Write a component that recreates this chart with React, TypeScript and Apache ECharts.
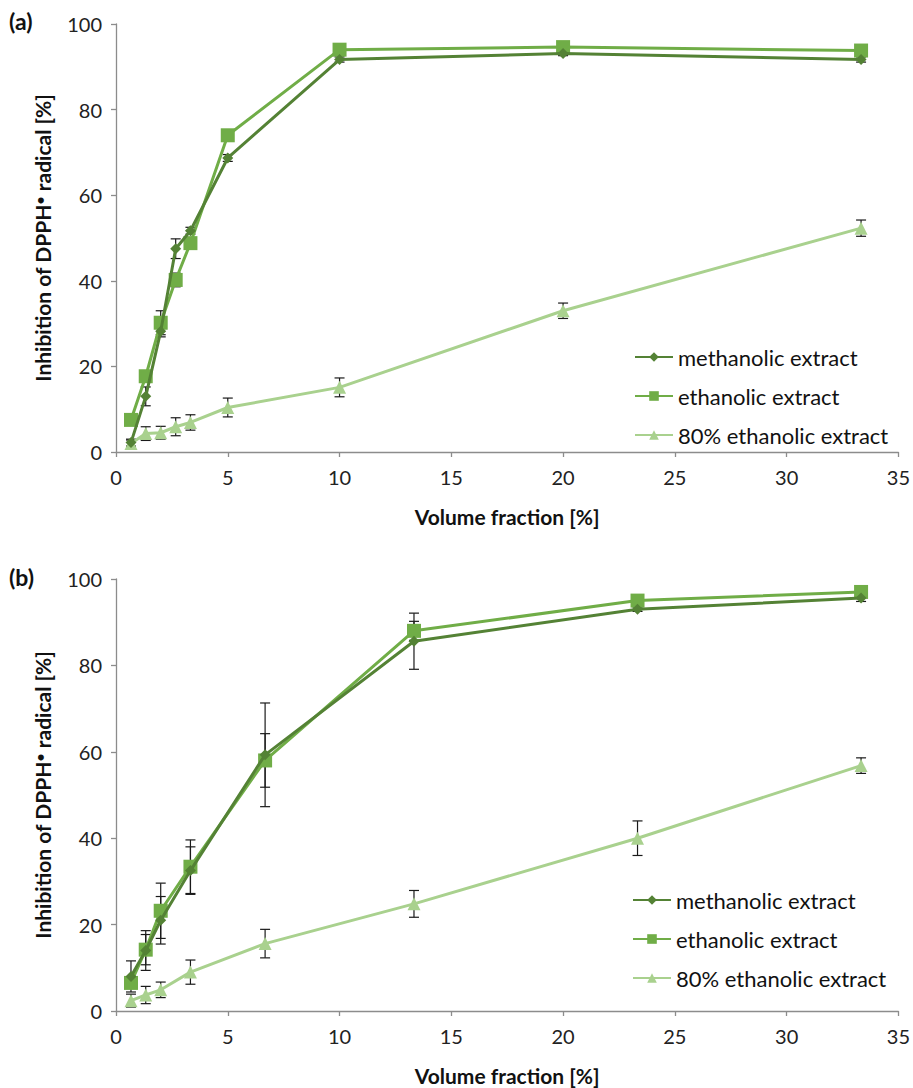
import React, { useEffect, useRef } from "react";
import * as echarts from "echarts";

// ---- Panel (a) ----
const xA = [0.67, 1.33, 2, 2.67, 3.33, 5, 10, 20, 33.33];
const methA = [2.2, 13, 28.2, 47.5, 51.7, 68.7, 91.7, 93.1, 91.7];
const methASd = [0.8, 2.2, 1.3, 2.3, 0.8, 0.8, 0.6, 0.5, 0.6];
const ethA = [7.5, 17.7, 30.2, 40.2, 48.8, 74, 94, 94.6, 93.8];
const ethASd = [0.6, 1, 2.8, 1.6, 1, 1.3, 0.5, 0.5, 0.5];
const e80A = [2, 4.3, 4.5, 5.9, 6.9, 10.4, 15.1, 33, 52.3];
const e80ASd = [0.8, 1.6, 1.5, 2.1, 1.8, 2.2, 2.2, 1.8, 1.9];

// ---- Panel (b) ----
const xB = [0.67, 1.33, 2, 3.33, 6.67, 13.33, 23.33, 33.33];
const methB = [8, 14, 21, 32.5, 59.3, 85.6, 93, 95.6];
const methBSd = [3.6, 4.6, 5.5, 5.5, 12, 6.5, 0.5, 0.8];
const ethB = [6.5, 14.2, 23.2, 33.4, 58, 88, 95, 97];
const ethBSd = [1.2, 3.5, 6.4, 6.2, 6.2, 2.2, 0.4, 0.5];
const e80B = [2.4, 3.7, 4.9, 9, 15.6, 24.8, 40, 56.8];
const e80BSd = [1.5, 2, 1.8, 2.8, 3.3, 3.1, 4, 1.8];

const seriesNames = ["methanolic extract", "ethanolic extract", "80% ethanolic extract"];
const xTitle = "Volume fraction [%]";
const yTitle = "Inhibition of DPPH{b|\u2022} radical [%]";
const panelLabels = ["(a)", "(b)"];

const colors = ["#548235", "#70AD47", "#A9D18E"];
const symbols = ["diamond", "rect", "triangle"];
const symbolSizes = [11, 14, 13];
const FONT = "Lato, 'Noto Sans', sans-serif";

function pairs(xs: number[], ys: number[]) {
  return xs.map((x, i) => [x, ys[i]]);
}
function errs(xs: number[], ys: number[], sd: number[]) {
  return xs.map((x, i) => [x, ys[i] - sd[i], ys[i] + sd[i]]);
}

const renderErr = (params: any, api: any) => {
  const x = api.value(0);
  const lo = api.coord([x, api.value(1)]);
  const hi = api.coord([x, api.value(2)]);
  const w = 5;
  const st = { stroke: "#1a1a1a", lineWidth: 1.2 };
  return {
    type: "group",
    children: [
      { type: "line", shape: { x1: lo[0], y1: lo[1], x2: hi[0], y2: hi[1] }, style: st },
      { type: "line", shape: { x1: lo[0] - w, y1: lo[1], x2: lo[0] + w, y2: lo[1] }, style: st },
      { type: "line", shape: { x1: hi[0] - w, y1: hi[1], x2: hi[0] + w, y2: hi[1] }, style: st },
    ],
  };
};

export default function App() {
  const ref = useRef<HTMLDivElement>(null);
  useEffect(() => {
    if (!ref.current) return;
    const chart = echarts.init(ref.current, undefined, { renderer: "svg" });

    const axisLine = { lineStyle: { color: "#8c8c8c", width: 1.3 } };
    const axisTick = { show: true, inside: false, length: 5, lineStyle: { color: "#8c8c8c", width: 1.3 } };
    const labelStyle = { color: "#222", fontSize: 20, fontFamily: FONT };
    const nameStyle = {
      color: "#111",
      fontSize: 21,
      fontWeight: "bold" as const,
      fontFamily: FONT,
      rich: { b: { fontSize: 14, fontWeight: "bold", fontFamily: FONT, color: "#111", verticalAlign: "top" } },
    };

    const grids = [
      { left: 116, width: 783, top: 24, height: 428 },
      { left: 116, width: 783, top: 579, height: 432 },
    ];
    const xAxes = [0, 1].map((g) => ({
      type: "value",
      gridIndex: g,
      min: 0,
      max: 35,
      interval: 5,
      axisLine,
      axisTick,
      splitLine: { show: false },
      axisLabel: { ...labelStyle, margin: 15 },
      name: xTitle,
      nameLocation: "middle",
      nameGap: 54,
      nameTextStyle: nameStyle,
    }));
    const yAxes = [0, 1].map((g) => ({
      type: "value",
      gridIndex: g,
      min: 0,
      max: 100,
      interval: 20,
      axisLine: { show: true, ...axisLine },
      axisTick,
      splitLine: { show: false },
      axisLabel: { ...labelStyle, margin: 14 },
      name: yTitle,
      nameLocation: "middle",
      nameGap: 63,
      nameTextStyle: nameStyle,
    }));

    const panels = [
      { xs: xA, ys: [methA, ethA, e80A], sds: [methASd, ethASd, e80ASd] },
      { xs: xB, ys: [methB, ethB, e80B], sds: [methBSd, ethBSd, e80BSd] },
    ];

    const series: any[] = [];
    panels.forEach((p, g) => {
      p.ys.forEach((ys, k) => {
        series.push({
          type: "custom",
          name: seriesNames[k] + " err",
          xAxisIndex: g,
          yAxisIndex: g,
          renderItem: renderErr,
          encode: { x: 0, y: [1, 2] },
          data: errs(p.xs, ys, p.sds[k]),
          z: 1,
          silent: true,
        });
      });
      p.ys.forEach((ys, k) => {
        series.push({
          type: "line",
          name: seriesNames[k],
          xAxisIndex: g,
          yAxisIndex: g,
          data: pairs(p.xs, ys),
          symbol: symbols[k],
          symbolSize: symbolSizes[k],
          showSymbol: true,
          lineStyle: { color: colors[k], width: 3 },
          itemStyle: { color: colors[k] },
          z: 3 + (2 - k),
        });
      });
    });

    const legendBase = {
      orient: "vertical",
      data: seriesNames,
      itemWidth: 38,
      itemHeight: 12,
      itemGap: 17,
      padding: 0,
      textStyle: { color: "#111", fontSize: 22, fontFamily: FONT },
      selectedMode: false,
    };

    chart.setOption({
      animation: false,
      backgroundColor: "#fff",
      grid: grids,
      xAxis: xAxes,
      yAxis: yAxes,
      legend: [
        { ...legendBase, left: 634, top: 346 },
        { ...legendBase, left: 632, top: 889 },
      ],
      graphic: [
        { type: "text", left: 9, top: 9, style: { text: panelLabels[0], fontSize: 23, fontWeight: "bold", fontFamily: FONT, fill: "#111" } },
        { type: "text", left: 9, top: 565, style: { text: panelLabels[1], fontSize: 23, fontWeight: "bold", fontFamily: FONT, fill: "#111" } },
      ],
      series,
    });
    return () => chart.dispose();
  }, []);

  return (
    <div
      ref={ref}
      style={{ position: "absolute", left: 0, top: 0, width: 913, height: 1088, background: "#fff" }}
    />
  );
}
